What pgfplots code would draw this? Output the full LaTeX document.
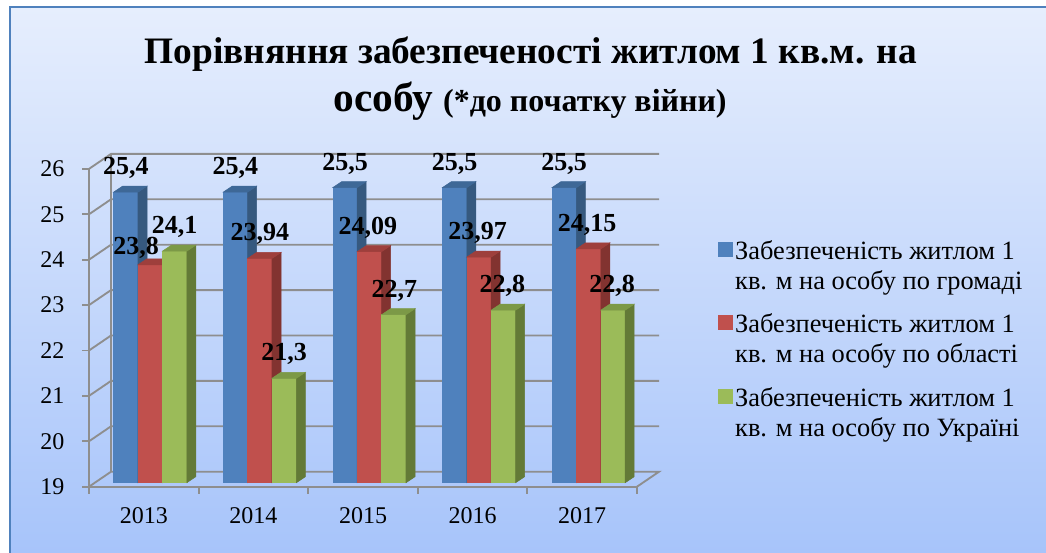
\documentclass[border=0pt]{standalone}
\usepackage{fontspec}
\setmainfont{Liberation Serif}
\usepackage{pgfplots}
\usepackage{pgfplotstable}
\pgfplotsset{compat=1.18}

\definecolor{bgtop}{HTML}{E6EEFD}
\definecolor{bgbot}{HTML}{A7C4FA}
\definecolor{frame}{HTML}{4F81BD}
\definecolor{gridgray}{HTML}{8E8E8E}
\definecolor{bF}{HTML}{4F81BD}\definecolor{bT}{HTML}{3E6897}\definecolor{bS}{HTML}{36597F}
\definecolor{rF}{HTML}{C0504D}\definecolor{rT}{HTML}{9E3F3C}\definecolor{rS}{HTML}{823330}
\definecolor{gF}{HTML}{9BBB59}\definecolor{gT}{HTML}{7C9947}\definecolor{gS}{HTML}{637A37}

\pgfdeclareplotmark{emptymark}{}

\pgfplotstableread{
x v lx ly
0 25.4 0 17.5
1 25.4 0 17.5
2 25.5 0 17.5
3 25.5 0 17.5
4 25.5 0 17.5
}\tblA
\pgfplotstableread{
x v lx ly
0 23.8 -14 10
1 23.94 0 17.5
2 24.09 -1.5 17
3 23.97 -1.5 17.5
4 24.15 -1.5 17.5
}\tblB
\pgfplotstableread{
x v lx ly
0 24.1 0 17.5
1 21.3 0 17.5
2 22.7 0.5 17.5
3 22.8 -1 17.5
4 22.8 -1 17.5
}\tblC

\pgfplotsset{
  bar3d/.style n args={3}{
    scatter, only marks, mark=emptymark,
    visualization depends on={\thisrow{v}\as\val},
    scatter/@pre marker code/.code={%
      \pgfmathsetmacro\hh{(\val-19)*34.05}%
      \fill[#1] (-9.15pt,-\hh pt) rectangle (9.15pt,0pt);
      \fill[#3] (9.15pt,-\hh pt) -- (15.9pt,-\hh pt+4.5pt) -- (15.9pt,4.5pt) -- (9.15pt,0pt) -- cycle;
      \fill[#2] (-9.15pt,0pt) -- (9.15pt,0pt) -- (15.9pt,4.5pt) -- (-2.4pt,4.5pt) -- cycle;
    },
    scatter/@post marker code/.code={},
    legend image code/.code={\fill[#1] (0pt,7.5pt) rectangle (10.5pt,18pt);},
  },
  barlabels/.style={
    only marks, mark=emptymark, forget plot,
    visualization depends on={\thisrow{v}\as\val},
    visualization depends on={\thisrow{lx}\as\lx},
    visualization depends on={\thisrow{ly}\as\ly},
    nodes near coords={\pgfmathprintnumber{\val}},
    nodes near coords align={anchor=base},
    every node near coord/.append style={font=\bfseries\fontsize{19.5}{19.5}\selectfont,
      text=black, anchor=base, inner sep=0pt, xshift=\lx*0.75pt, yshift=\ly*0.75pt,
      /pgf/number format/assume math mode=true, /pgf/number format/use comma},
  }
}

\begin{document}
\begin{tikzpicture}[x=0.75pt,y=0.75pt]
\path[use as bounding box] (0,0) rectangle (1046,553);
\fill[white] (0,0) rectangle (1046,553);
\shade[top color=bgtop, bottom color=bgbot] (10,0) rectangle (1046,546);
\draw[frame, line width=1.9pt] (10,0) -- (10,546) -- (1046,546);

\node[anchor=base, font=\bfseries\fontsize{28}{28}\selectfont] at (531,489.5)
  {Порівняння забезпеченості житлом 1 кв.м. на};
\node[anchor=base, font=\bfseries\fontsize{31}{31}\selectfont] at (530,441)
  {особу {\fontsize{24}{24}\selectfont(*до початку війни)}};

\begin{axis}[
  at={(66.75pt,49.725pt)}, anchor=south west,
  x=82.2pt, y=34.05pt,
  xmin=-0.5, xmax=4.5, ymin=19, ymax=26,
  clip=false,
  axis x line*=bottom, axis y line*=left,
  axis line style={draw=gridgray, line width=1.4pt, -},
  xtick={-0.5,0.5,...,4.5}, xticklabels={},
  extra x ticks={0,1,2,3,4},
  extra x tick labels={2013,2014,2015,2016,2017},
  extra x tick style={major tick length=0pt, tick style={draw=none}},
  ytick={19,20,...,26},
  xtick align=outside, ytick align=outside,
  major tick length=5.25pt,
  tick style={draw=gridgray, line width=1.4pt},
  yticklabel style={font=\fontsize{18}{18}\selectfont, xshift=-9.75pt},
  xticklabel style={font=\fontsize{18}{18}\selectfont, yshift=-12pt},
  /pgf/number format/assume math mode=true,
  legend cell align=left,
  legend style={at={(axis cs:5.2,24.55)}, anchor=north west, draw=none, fill=none,
    font=\fontsize{19.8}{22.5}\selectfont, cells={anchor=west, align=left}, row sep=13pt},
]
% back wall, side wall and floor
\addplot[gridgray, line width=1.4pt, forget plot] coordinates {(-0.5,19)(-0.2993,19.33)(4.7007,19.33)(4.5,19)};
\addplot[gridgray, line width=1.4pt, forget plot] coordinates {(-0.5,20)(-0.2993,20.33)(4.7007,20.33)};
\addplot[gridgray, line width=1.4pt, forget plot] coordinates {(-0.5,21)(-0.2993,21.33)(4.7007,21.33)};
\addplot[gridgray, line width=1.4pt, forget plot] coordinates {(-0.5,22)(-0.2993,22.33)(4.7007,22.33)};
\addplot[gridgray, line width=1.4pt, forget plot] coordinates {(-0.5,23)(-0.2993,23.33)(4.7007,23.33)};
\addplot[gridgray, line width=1.4pt, forget plot] coordinates {(-0.5,24)(-0.2993,24.33)(4.7007,24.33)};
\addplot[gridgray, line width=1.4pt, forget plot] coordinates {(-0.5,25)(-0.2993,25.33)(4.7007,25.33)};
\addplot[gridgray, line width=1.4pt, forget plot] coordinates {(-0.5,26)(-0.2993,26.33)(4.7007,26.33)};
\addplot[gridgray, line width=1.4pt, forget plot] coordinates {(-0.2993,19.33)(-0.2993,26.33)};

\addplot[bar3d={bF}{bT}{bS}] table[x expr=\thisrow{x}-0.1642, y expr=\thisrow{v}+0.088]{\tblA};
\addlegendentry{Забезпеченість житлом 1\\кв. м на особу по громаді}
\addplot[barlabels] table[x expr=\thisrow{x}-0.1642, y expr=\thisrow{v}+0.088]{\tblA};
\addplot[bar3d={rF}{rT}{rS}] table[x expr=\thisrow{x}+0.0584, y expr=\thisrow{v}+0.088]{\tblB};
\addlegendentry{Забезпеченість житлом 1\\кв. м на особу по області}
\addplot[barlabels] table[x expr=\thisrow{x}+0.0584, y expr=\thisrow{v}+0.088]{\tblB};
\addplot[bar3d={gF}{gT}{gS}] table[x expr=\thisrow{x}+0.2810, y expr=\thisrow{v}+0.088]{\tblC};
\addlegendentry{Забезпеченість житлом 1\\кв. м на особу по Україні}
\addplot[barlabels] table[x expr=\thisrow{x}+0.2810, y expr=\thisrow{v}+0.088]{\tblC};
\end{axis}
\end{tikzpicture}
\end{document}
